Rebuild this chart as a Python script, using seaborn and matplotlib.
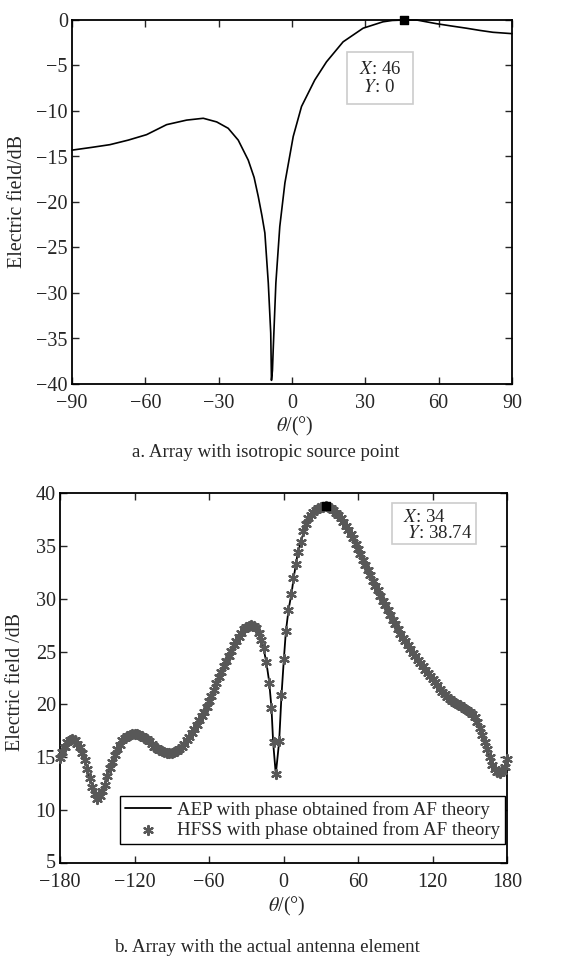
import numpy as np
import pandas as pd
import seaborn as sns
import matplotlib.pyplot as plt
from matplotlib.patches import Rectangle
from matplotlib.transforms import ScaledTranslation

# ---- (a) array with isotropic source point ----
theta_a = [-90, -82, -74.5, -67, -59.5, -51.3, -43.1, -36.3, -30.8, -26.1,
           -22.0, -17.9, -15.5, -13.8, -12.3, -11.1, -9.7, -8.7, -8.4, -8.0,
           -7.7, -6.6, -5.0, -2.9, 0.5, 3.9, 9.3, 14.1, 20.9, 29.1,
           37.2, 41, 46, 51, 59, 65, 71.3, 77, 82.2, 90]
field_a = [-14.3, -14.0, -13.7, -13.2, -12.6, -11.5, -11.0, -10.8, -11.2, -11.9,
           -13.2, -15.4, -17.3, -19.4, -21.5, -23.4, -28.9, -34.4, -39.6, -38.5,
           -36.3, -28.9, -22.7, -17.9, -12.8, -9.5, -6.6, -4.6, -2.4, -0.9,
           -0.2, -0.05, 0, 0, -0.4, -0.65, -0.9, -1.15, -1.35, -1.5]
peak_a = (46, 0)

# ---- (b) array with the actual antenna element ----
theta_aep = [-180, -176, -174.6, -170.6, -163.9, -158.5, -153.2, -150, -145.1, -139.8,
             -133.1, -126.4, -119.6, -110.3, -99.5, -91.5, -83.4, -72.7, -62, -51.2,
             -40.5, -32.5, -25.8, -20.4, -16.4, -13.7, -11.6, -9.7, -8.3, -6.2,
             -3.5, -1.6, 0.3, 1.9, 4.0, 6.7, 8.3, 11.3, 14.5, 18.5,
             23.9, 29.2, 34, 40, 48, 56, 64.1, 72.1, 80.2, 88.2,
             96.3, 104.3, 112.4, 120.4, 128.5, 136.5, 144.6, 152.6, 158, 163.3,
             168.7, 173.3, 177.3, 180]
aep_db = [14.9, 16.0, 16.35, 16.7, 16.0, 14.1, 11.9, 11.05, 11.9, 14.1,
          16.0, 17.0, 17.2, 16.7, 15.7, 15.4, 15.9, 17.6, 19.8, 22.8,
          25.5, 27.1, 27.5, 26.9, 25.5, 23.9, 22.2, 19.7, 16.35, 13.4,
          16.5, 20.9, 24.3, 26.9, 28.9, 30.7, 32.05, 34.2, 35.6, 37.2,
          38.1, 38.6, 38.74, 38.4, 37.5, 35.9, 34.0, 31.8, 29.9, 28.0,
          26.3, 24.9, 23.6, 22.5, 21.2, 20.3, 19.8, 19.2, 17.9, 16.0,
          14.1, 13.5, 14.0, 14.8]

theta_hfss = list(range(-180, 181, 2))
hfss_db = [14.9, 15.5, 16.0, 16.4, 16.6, 16.7, 16.6, 16.3, 16.0, 15.4,
           14.7, 13.9, 13.0, 12.2, 11.5, 11.05, 11.3, 11.8, 12.4, 13.2,
           14.0, 14.6, 15.2, 15.8, 16.2, 16.6, 16.8, 17.0, 17.1, 17.2,
           17.2, 17.2, 17.1, 17.0, 16.8, 16.7, 16.5, 16.3, 16.0, 15.9,
           15.7, 15.6, 15.5, 15.45, 15.4, 15.4, 15.5, 15.6, 15.8, 16.0,
           16.3, 16.6, 16.9, 17.3, 17.7, 18.1, 18.5, 18.9, 19.3, 19.8,
           20.3, 20.8, 21.4, 22.0, 22.6, 23.1, 23.6, 24.1, 24.6, 25.1,
           25.6, 26.0, 26.4, 26.8, 27.1, 27.3, 27.4, 27.5, 27.4, 27.2,
           26.8, 26.1, 25.3, 24.0, 22.0, 19.7, 16.4, 13.4, 16.5, 20.9,
           24.3, 26.9, 28.9, 30.4, 32.0, 33.3, 34.4, 35.4, 36.4, 37.1,
           37.6, 37.9, 38.2, 38.4, 38.6, 38.7, 38.72, 38.74, 38.7, 38.6,
           38.4, 38.1, 37.9, 37.6, 37.3, 36.9, 36.5, 36.1, 35.7, 35.2,
           34.7, 34.2, 33.7, 33.2, 32.7, 32.2, 31.7, 31.2, 30.8, 30.3,
           29.8, 29.4, 28.9, 28.5, 28.0, 27.6, 27.1, 26.7, 26.3, 26.0,
           25.6, 25.2, 24.9, 24.6, 24.2, 23.9, 23.6, 23.3, 23.0, 22.7,
           22.4, 22.1, 21.8, 21.5, 21.2, 21.0, 20.7, 20.5, 20.3, 20.1,
           20.0, 19.9, 19.8, 19.6, 19.5, 19.3, 19.1, 18.8, 18.3, 17.8,
           17.1, 16.4, 15.8, 15.0, 14.3, 13.9, 13.6, 13.5, 13.7, 14.1,
           14.8]
peak_b = (34, 38.74)

sns.set_style("ticks")
plt.rcParams['font.family'] = ['Liberation Serif', 'DejaVu Serif']
plt.rcParams['mathtext.fontset'] = 'stix'

TICK_FS = 14.5
LABEL_FS = 14.4
CAP_FS = 13.6
STAR_GRAY = '#585858'

fig = plt.figure(figsize=(5.61, 9.56), dpi=100)
W, H = 561, 956


def axes_px(left, top, right, bottom):
    return fig.add_axes([left / W, 1 - bottom / H, (right - left) / W, (bottom - top) / H])


def style_axes(ax):
    ax.tick_params(direction='in', top=True, right=True, length=5, width=1,
                   labelsize=TICK_FS)
    ax.tick_params(axis='x', pad=7)
    ax.tick_params(axis='y', pad=3)
    for sp in ax.spines.values():
        sp.set_linewidth(1.3)
        sp.set_color('black')


def datatip(box, text_xy, lines, gap):
    # box and text positions in figure pixels
    x0, y0, x1, y1 = box
    fig.patches.append(Rectangle((x0 / W, 1 - y1 / H), (x1 - x0) / W, (y1 - y0) / H,
                                 transform=fig.transFigure, facecolor='white',
                                 edgecolor='#cccccc', lw=1.2, zorder=10))
    for i, s in enumerate(lines):
        fig.text(text_xy[0] / W, 1 - (text_xy[1] + i * gap) / H, s, fontsize=13.6,
                 ha='left', va='center', zorder=11)


# panel a
ax1 = axes_px(72, 20, 512, 384)
df_a = pd.DataFrame({'theta': theta_a, 'field': field_a})
sns.lineplot(data=df_a, x='theta', y='field', ax=ax1, color='black', lw=1.2,
             sort=False, clip_on=False)
ax1.scatter([peak_a[0]], [peak_a[1]], marker='s', s=32, color='black', zorder=5, clip_on=False)
ax1.set_xlim(-90, 90)
ax1.set_ylim(-40, 0)
ax1.set_xticks([-90, -60, -30, 0, 30, 60, 90])
ax1.set_yticks(range(-40, 1, 5))
ax1.set_xlabel(r'$\theta$/(°)', fontsize=LABEL_FS)
ax1.set_ylabel('Electric field/dB', fontsize=LABEL_FS)
ax1.xaxis.set_label_coords(0.507, -0.085)
ax1.yaxis.set_label_coords(-0.102, 0.5)
style_axes(ax1)
datatip((347, 52, 413, 104), (359, 69), [r'$X$: 46', r' $Y$: 0'], 19)
fig.text(266 / W, 1 - 452 / H, 'a. Array with isotropic source point', ha='center',
         va='center', fontsize=CAP_FS)

# panel b
ax2 = axes_px(60, 493, 507, 863)
df_aep = pd.DataFrame({'theta': theta_aep, 'field': aep_db})
df_hfss = pd.DataFrame({'theta': theta_hfss, 'field': hfss_db})
sns.lineplot(data=df_aep, x='theta', y='field', ax=ax2, color='black', lw=1.3,
             sort=False, label='AEP with phase obtained from AF theory')
sns.scatterplot(data=df_hfss, x='theta', y='field', ax=ax2, color=STAR_GRAY,
                marker=(6, 2, 0), s=42, edgecolor=STAR_GRAY, linewidth=1.6,
                label='HFSS with phase obtained from AF theory', clip_on=False, zorder=3)
ax2.scatter([peak_b[0]], [peak_b[1]], marker='s', s=32, color='black', zorder=6)
ax2.set_xlim(-180, 180)
ax2.set_ylim(5, 40)
ax2.set_xticks([-180, -120, -60, 0, 60, 120, 180])
ax2.set_yticks(range(5, 41, 5))
ax2.set_xlabel(r'$\theta$/(°)', fontsize=LABEL_FS)
ax2.set_ylabel('Electric field /dB', fontsize=LABEL_FS)
ax2.xaxis.set_label_coords(0.507, -0.086)
ax2.yaxis.set_label_coords(-0.078, 0.49)
style_axes(ax2)
# lift the lowest y label a little so it clears the -180 label
lowest = ax2.get_yticklabels()[0]
lowest.set_transform(lowest.get_transform() + ScaledTranslation(0, 2 / 100, fig.dpi_scale_trans))
datatip((392, 503, 476, 544), (403, 517), [r'$X$: 34', r' $Y$: 38.74'], 17)
leg = ax2.legend(loc='lower right', bbox_to_anchor=(0.9955, 0.051), fontsize=CAP_FS,
                 frameon=True, fancybox=False, edgecolor='black', framealpha=1,
                 borderpad=0.25, handlelength=2.4, handletextpad=0.35, labelspacing=0.15,
                 borderaxespad=0, markerscale=1.0)
leg.get_frame().set_linewidth(1.0)
fig.text(267 / W, 1 - 947 / H, 'b. Array with the actual antenna element', ha='center',
         va='center', fontsize=CAP_FS)

fig.savefig('out.png', dpi=100)
